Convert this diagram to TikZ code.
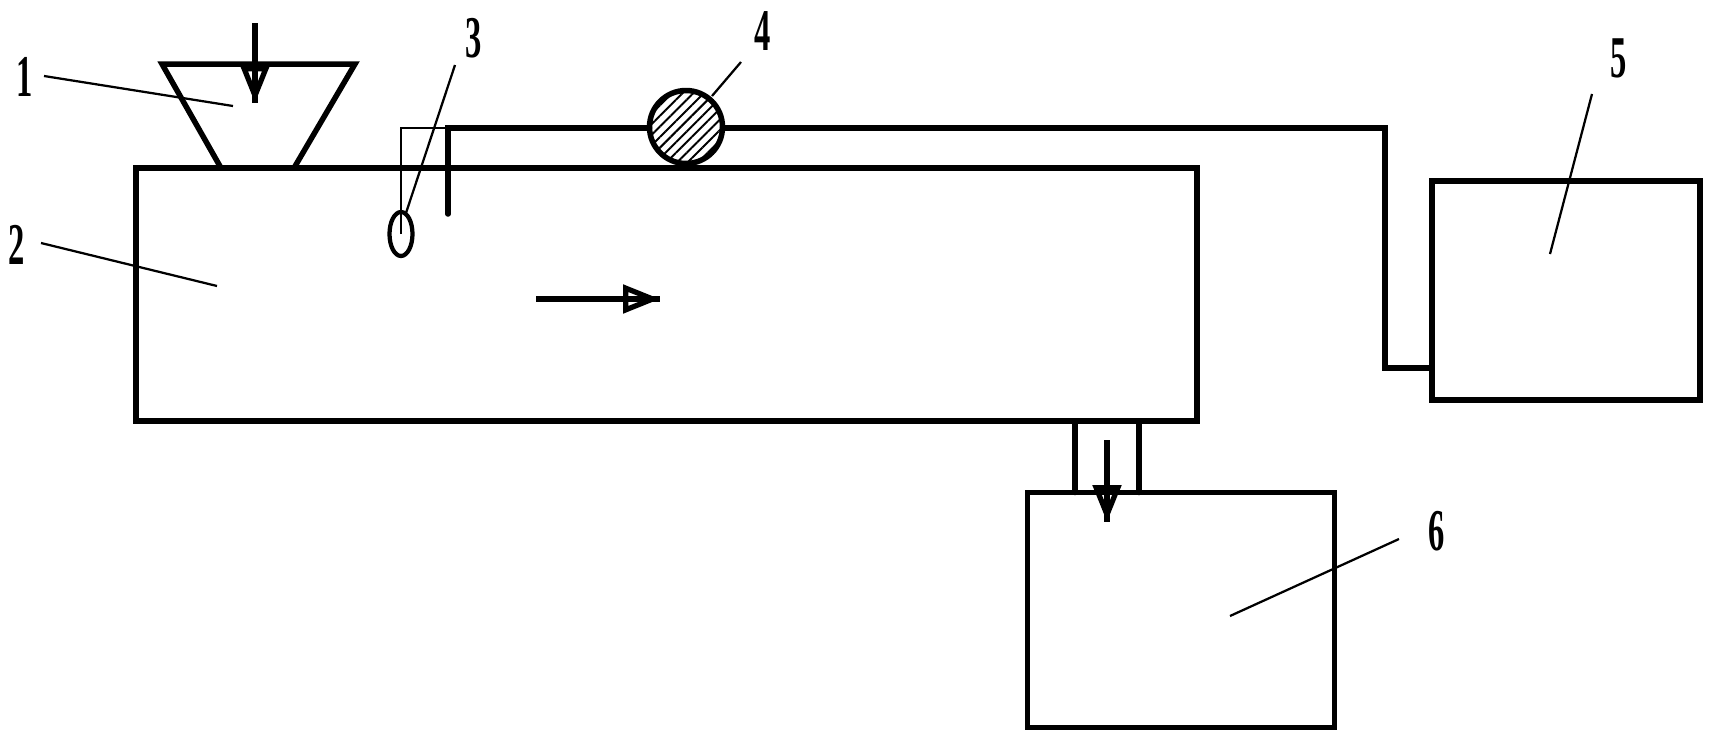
\documentclass[tikz,border=0pt]{standalone}
\usepackage{fontspec}
\usepackage{graphicx}
\setmainfont{Liberation Serif}
\usetikzlibrary{shapes.geometric,arrows.meta,patterns.meta,calc,positioning}
\newcommand{\narrownum}[1]{\scalebox{0.55}[1]{#1}}
\tikzset{
    vessel/.style={rectangle, draw, line width=0.11cm, inner sep=0pt, outer sep=0pt},
    pipe/.style={line width=0.11cm, line cap=round},
    wire/.style={line width=0.055cm},
    leader/.style={line width=0.045cm},
    flow/.style={line width=0.11cm, -{Triangle[open,length=0.74cm,width=0.56cm,line width=0.105cm]}, postaction={draw,-}},
    num/.style={inner sep=0pt, font=\fontsize{33.7}{36}\selectfont\bfseries}
}
\begin{document}
\begin{tikzpicture}[x=0.02cm,y=-0.02cm]
\useasboundingbox (0,0) rectangle (1712,744);
% main vessels
\node[vessel, minimum width=21.22cm, minimum height=5.06cm](drum) at (666.5,294.5){};
\node[vessel, minimum width=5.36cm, minimum height=4.38cm](store) at (1566,290.5){};
\node[vessel, minimum width=6.14cm, minimum height=4.7cm](tank) at (1181,610){};
\node[draw, circle, line width=0.11cm, minimum size=1.46cm, inner sep=0pt, outer sep=0pt, pattern={Lines[angle=45,distance=0.15cm,line width=0.04cm]}](pump) at (686,127){};
\node[draw, ellipse, line width=0.085cm, minimum width=0.46cm, minimum height=0.88cm, inner sep=0pt, outer sep=0pt](sensor) at (401,234){};
% hopper
\coordinate (hopperleft) at (221,168);
\coordinate (hoppertl) at (162,64);
\coordinate (hoppertr) at (355,64);
\coordinate (hopperright) at (294,168);
\draw[pipe, line cap=butt](hopperleft)--(hoppertl)--(hoppertr)--(hopperright);
% pipe work
\coordinate (probetop) at (448,128);
\coordinate (probeend) at (448,214);
\coordinate (elbowtop) at (1385,128);
\coordinate (elbowend) at (1385,368);
\coordinate (chuteleft) at (1075,450);
\coordinate (chuteright) at (1139,450);
\draw[wire](sensor.center)|-(probetop);
\draw[pipe](probeend)--(probetop)--(pump.west|-probetop);
\draw[pipe](pump.east|-probetop)--(elbowtop)--(elbowend)--(elbowend-|store.west);
\draw[pipe](chuteleft|-drum.south)--(chuteleft|-tank.north);
\draw[pipe](chuteright|-drum.south)--(chuteright|-tank.north);
% flow arrows
\coordinate (feedstart) at (255,23);
\coordinate (feedend) at (255,103);
\coordinate (midstart) at (536,299);
\coordinate (midend) at (660,299);
\coordinate (dropstart) at (1107,440);
\coordinate (dropend) at (1107,522);
\draw[flow](feedstart)--(feedend);
\draw[flow](midstart)--(midend);
\draw[flow](dropstart)--(dropend);
% part numbers
\node[num](num1) at (25,77){\narrownum{1}};
\node[num](num2) at (17,245){\narrownum{2}};
\node[num](num3) at (474,38){\narrownum{3}};
\node[num](num4) at (763,31){\narrownum{4}};
\node[num](num5) at (1619,58){\narrownum{5}};
\node[num](num6) at (1437,531){\narrownum{6}};
% leader lines
\coordinate (tail1) at ($(num1)+(19,-1)$);
\coordinate (tail2) at ($(num2)+(24,-2)$);
\coordinate (tail3) at ($(num3)+(-19,27)$);
\coordinate (tail4) at ($(num4)+(-22,31)$);
\coordinate (tail5) at ($(num5)+(-27,36)$);
\coordinate (tail6) at ($(num6)+(-38,8)$);
\coordinate (end1) at (233,106);
\coordinate (end2) at (217,286);
\coordinate (end3) at (406,213);
\coordinate (end4) at (712,96);
\coordinate (end5) at (1550,254);
\coordinate (end6) at (1230,616);
\path[leader](tail1)edge(end1);
\path[leader](tail2)edge(end2);
\path[leader](tail3)edge(end3);
\path[leader](tail4)edge(end4);
\path[leader](tail5)edge(end5);
\path[leader](tail6)edge(end6);
\end{tikzpicture}
\end{document}
